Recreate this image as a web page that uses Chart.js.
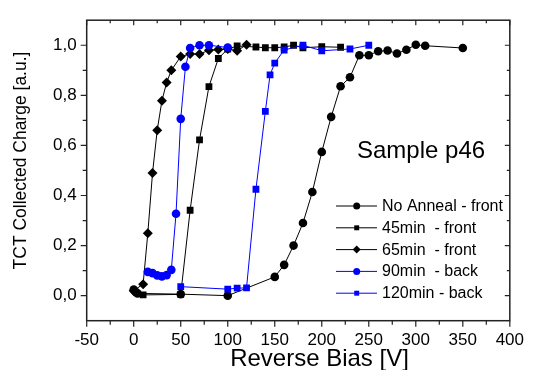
<!DOCTYPE html>
<html>
<head>
<meta charset="utf-8">
<script src="https://cdn.jsdelivr.net/npm/chart.js@4"></script>
<style>
  body { margin: 0; background: #fff; }
  canvas { display: block; }
</style>
</head>
<body>
<canvas id="tct_chart" width="533" height="370"></canvas>
<script>
// values
let noAnnealV = [0, 2, 4, 50, 100, 150, 160, 170, 180, 190, 200, 210, 220, 230, 240, 250, 260, 270, 280, 290, 300, 310, 350];
let noAnnealQ = [0.024, 0.015, 0.009, 0.006, 0.0, 0.075, 0.123, 0.2, 0.29, 0.414, 0.574, 0.714, 0.836, 0.872, 0.96, 0.96, 0.976, 0.979, 0.967, 0.982, 1.002, 0.998, 0.989];

let min45V = [10, 50, 60, 70, 80, 90, 100, 110, 130, 140, 150, 160, 170, 180, 200, 220];
let min45Q = [0.003, 0.005, 0.341, 0.622, 0.835, 0.947, 0.985, 0.997, 0.993, 0.99, 0.99, 0.993, 1.0, 0.99, 0.994, 0.992];

let min65V = [0, 10, 15, 20, 25, 30, 35, 40, 50, 60, 70, 80, 90, 100, 110, 120];
let min65Q = [0.02, 0.046, 0.249, 0.49, 0.661, 0.778, 0.851, 0.9, 0.955, 0.965, 0.965, 0.98, 0.983, 0.985, 0.978, 1.002];

let min90V = [15, 20, 25, 30, 35, 40, 45, 50, 55, 60, 70, 80, 100];
let min90Q = [0.095, 0.09, 0.081, 0.077, 0.082, 0.103, 0.327, 0.706, 0.914, 0.989, 1.0, 1.0, 0.991];

let min120V = [50, 100, 110, 120, 130, 140, 145, 150, 160, 180, 200, 230, 250];
let min120Q = [0.036, 0.026, 0.03, 0.031, 0.425, 0.736, 0.882, 0.929, 0.981, 1.0, 0.978, 0.985, 1.0];

let seriesLabels = ['No Anneal - front', '45min  - front', '65min  - front', '90min  - back', '120min - back'];
let xTicks = [-50, 0, 50, 100, 150, 200, 250, 300, 350, 400];
let yTicks = [0.0, 0.2, 0.4, 0.6, 0.8, 1.0];

const FONT = 'Arial, "Liberation Sans", sans-serif';

function pts(xs, ys) {
    return xs.map((v, i) => ({ x: v, y: ys[i] }));
}

function makeSet(label, xs, ys, color, style, radius, order) {
    return {
        label: label,
        data: pts(xs, ys),
        borderColor: color,
        backgroundColor: color,
        borderWidth: 1,
        pointStyle: style,
        pointRadius: radius,
        pointBorderWidth: 0,
        order: order
    };
}

//=======================================================//
// frame with ticks on all four sides (Origin style), axis titles, legend box and note
const framePlugin = {
    id: 'framePlugin',
    afterDraw(chart) {
        const ctx = chart.ctx;
        const a = chart.chartArea;
        const x = chart.scales.x;
        const y = chart.scales.y;
        ctx.save();

        ctx.strokeStyle = '#222';
        ctx.lineWidth = 1.5;
        ctx.strokeRect(a.left, a.top, a.right - a.left, a.bottom - a.top);

        ctx.lineWidth = 1.2;
        ctx.beginPath();
        let xStep = (xTicks[1] - xTicks[0]) / 2;
        for (let v = xTicks[0]; v <= xTicks[xTicks.length - 1]; v += xStep) {
            let px = x.getPixelForValue(v);
            let major = xTicks.includes(v);
            ctx.moveTo(px, a.bottom);
            ctx.lineTo(px, a.bottom + (major ? 6 : 4));
            ctx.moveTo(px, a.top);
            ctx.lineTo(px, a.top + (major ? 5 : 3));
        }
        let yStep = (yTicks[1] - yTicks[0]) / 2;
        for (let i = 0; i <= 10; i++) {
            let v = i * yStep;
            let py = y.getPixelForValue(v);
            let major = i % 2 === 0;
            ctx.moveTo(a.left, py);
            ctx.lineTo(a.left - (major ? 6 : 4), py);
            ctx.moveTo(a.right, py);
            ctx.lineTo(a.right - (major ? 5 : 3), py);
        }
        ctx.stroke();

        ctx.fillStyle = '#000';
        ctx.textBaseline = 'middle';
        ctx.textAlign = 'center';

        // axis titles
        ctx.font = '24px ' + FONT;
        ctx.fillText('Reverse Bias [V]', 319.5, 359);
        ctx.save();
        ctx.translate(21.5, 160.5);
        ctx.rotate(-Math.PI / 2);
        ctx.font = '17.5px ' + FONT;
        ctx.fillText('TCT Collected Charge [a.u.]', 0, 0);
        ctx.restore();

        // note
        ctx.textAlign = 'left';
        ctx.font = '24px ' + FONT;
        ctx.fillText('Sample p46', 357, 151);

        // legend
        ctx.font = '16px ' + FONT;
        chart.data.datasets.forEach(function (ds, i) {
            let ly = 206 + i * 21.8;
            ctx.strokeStyle = ds.borderColor;
            ctx.lineWidth = 1;
            ctx.beginPath();
            ctx.moveTo(336, ly);
            ctx.lineTo(377, ly);
            ctx.stroke();
            ctx.fillStyle = ds.backgroundColor;
            Chart.helpers.drawPoint(ctx, { pointStyle: ds.pointStyle, radius: ds.pointStyle === 'rectRot' ? 4 : 3.5, borderWidth: 0 }, 356.7, ly);
            ctx.fillStyle = '#000';
            ctx.fillText(ds.label, 382, ly + 0.5);
        });

        ctx.restore();
    }
};

let ctx = document.getElementById('tct_chart').getContext('2d');

let tct_chart = new Chart(ctx, {
    type: 'line',
    data: {
        datasets: [
            makeSet(seriesLabels[0], noAnnealV, noAnnealQ, '#000000', 'circle', 4.3, 5),
            makeSet(seriesLabels[1], min45V, min45Q, '#000000', 'rect', 4.8, 4),
            makeSet(seriesLabels[2], min65V, min65Q, '#000000', 'rectRot', 5, 3),
            makeSet(seriesLabels[3], min90V, min90Q, '#0000ff', 'circle', 4.3, 2),
            makeSet(seriesLabels[4], min120V, min120Q, '#0000ff', 'rect', 4.8, 1)
        ]
    },
    options: {
        responsive: false,
        animation: false,
        devicePixelRatio: 1,
        layout: {
            padding: { top: 14, right: 17, left: 0, bottom: 0 }
        },
        plugins: {
            legend: { display: false },
            tooltip: { enabled: false }
        },
        scales: {
            x: {
                type: 'linear',
                min: -50,
                max: 400,
                afterBuildTicks: function (axis) {
                    axis.ticks = xTicks.map(v => ({ value: v }));
                },
                afterFit: function (axis) {
                    axis.height = 49.3;
                },
                grid: { display: false, drawTicks: false },
                border: { display: false },
                ticks: {
                    color: '#000',
                    padding: 9,
                    maxRotation: 0,
                    font: { family: FONT, size: 17 }
                }
            },
            y: {
                type: 'linear',
                min: -0.1,
                max: 1.1,
                afterBuildTicks: function (axis) {
                    axis.ticks = yTicks.map(v => ({ value: v }));
                },
                afterFit: function (axis) {
                    axis.width = 86.7;
                },
                grid: { display: false, drawTicks: false },
                border: { display: false },
                ticks: {
                    color: '#000',
                    padding: 10,
                    font: { family: FONT, size: 17 },
                    callback: function (v) {
                        return v.toFixed(1).replace('.', ',');
                    }
                }
            }
        }
    },
    plugins: [framePlugin]
});
</script>
</body>
</html>
